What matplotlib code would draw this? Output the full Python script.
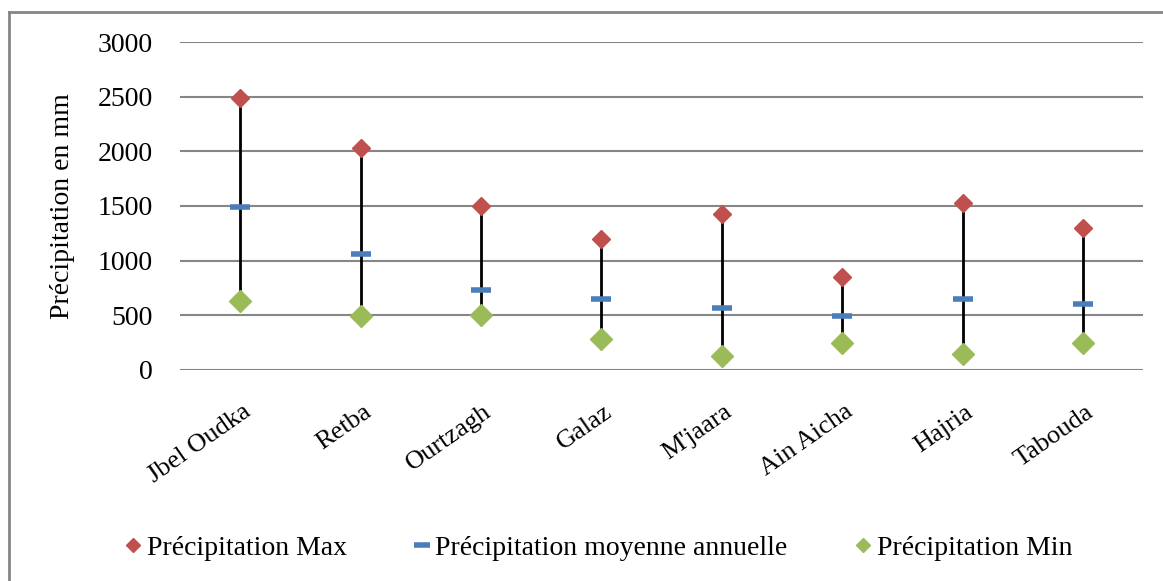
import matplotlib.pyplot as plt
import matplotlib.transforms as mtransforms
from matplotlib.lines import Line2D
import numpy as np

plt.rcParams.update({
    'font.family': 'Liberation Serif',
    'font.size': 20,
})

stations = ['Jbel Oudka', 'Retba', 'Ourtzagh', 'Galaz', "M'jaara", 'Ain Aicha', 'Hajria', 'Tabouda']
p_max = [2490, 2030, 1500, 1200, 1430, 850, 1530, 1300]
p_moy = [1490, 1060, 730, 650, 570, 490, 650, 600]
p_min = [630, 490, 500, 280, 130, 250, 150, 250]

c_max = '#C0504D'
c_moy = '#4A7EBB'
c_min = '#9BBB59'

fig = plt.figure(figsize=(11.63, 5.81), dpi=100)
ax = fig.add_axes([0.1548, 0.3632, 0.8282, 0.5645])

x = np.arange(len(stations))

# lignes haut-bas
ax.vlines(x, p_min, p_max, color='black', lw=2, zorder=3)
ax.plot(x, p_max, ls='none', marker='D', ms=9, color=c_max, zorder=4, label='Précipitation Max')
ax.plot(x, p_moy, ls='none', marker='_', ms=15, mew=4, color=c_moy, zorder=4,
        label='Précipitation moyenne annuelle')
ax.plot(x, p_min, ls='none', marker='D', ms=11, color=c_min, zorder=4, label='Précipitation Min')

ax.set_xlim(-0.5, len(stations) - 0.5)
ax.set_ylim(0, 3000)
ax.set_yticks(np.arange(0, 3001, 500))
ax.yaxis.grid(True, color='#868686', lw=1.5)
ax.set_axisbelow(True)
for s in ax.spines.values():
    s.set_visible(False)
ax.tick_params(length=0, labelsize=20)
ax.tick_params(axis='y', pad=19.5)
ax.set_xticks(x)
ax.set_xticklabels(stations, rotation=35, ha='right', va='top', rotation_mode='anchor',
                   fontsize=19)
shift = mtransforms.ScaledTranslation(0.02, -0.26, fig.dpi_scale_trans)
for lbl in ax.get_xticklabels():
    lbl.set_transform(lbl.get_transform() + shift)
ax.set_ylabel('Précipitation en mm', fontsize=20, labelpad=16)

h = [Line2D([], [], ls='none', marker='D', ms=7, color=c_max),
     Line2D([], [], ls='none', marker='_', ms=12, mew=4, color=c_moy),
     Line2D([], [], ls='none', marker='D', ms=7, color=c_min)]
fig.legend(h, ['Précipitation Max', 'Précipitation moyenne annuelle', 'Précipitation Min'],
           loc='center', bbox_to_anchor=(0.512, 0.057), ncol=3, frameon=False,
           fontsize=20, handletextpad=0.0, columnspacing=2.2, handlelength=1.0)

# cadre (bords haut et gauche visibles)
fig.add_artist(Line2D([0.0077, 1.0], [0.979, 0.979], transform=fig.transFigure,
                      color='#868686', lw=2))
fig.add_artist(Line2D([0.0077, 0.0077], [0.0, 0.979], transform=fig.transFigure,
                      color='#868686', lw=2))

fig.savefig('out.png', dpi=100)
